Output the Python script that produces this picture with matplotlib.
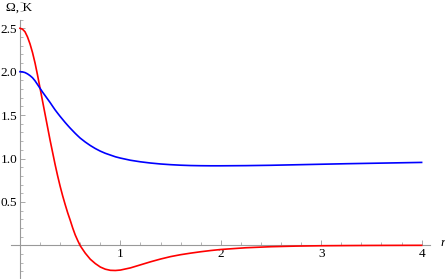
import matplotlib
matplotlib.use('Agg')
import matplotlib.pyplot as plt
from matplotlib.ticker import MultipleLocator, FixedLocator

# values
r_vals = [0.0, 0.025, 0.05, 0.075, 0.1, 0.125, 0.15, 0.175, 0.2, 0.225, 0.25,
          0.275, 0.3, 0.325, 0.35, 0.375, 0.4, 0.425, 0.45, 0.475, 0.5, 0.525,
          0.55, 0.575, 0.6, 0.65, 0.7, 0.75, 0.8, 0.85, 0.9, 0.95, 1.0, 1.1,
          1.2, 1.3, 1.4, 1.5, 1.6, 1.7, 1.8, 1.9, 2.0, 2.25, 2.5, 2.75, 3.0,
          3.25, 3.5, 3.75, 4.0]
omega = [2.5, 2.49, 2.46, 2.40, 2.32, 2.22, 2.10, 1.96, 1.81, 1.66, 1.51,
         1.36, 1.21, 1.07, 0.93, 0.80, 0.68, 0.57, 0.47, 0.375, 0.29, 0.20,
         0.12, 0.055, -0.005, -0.09, -0.16, -0.21, -0.25, -0.275, -0.288, -0.29,
         -0.285, -0.26, -0.225, -0.19, -0.158, -0.13, -0.108, -0.09, -0.074,
         -0.06, -0.048, -0.028, -0.016, -0.009, -0.005, -0.003, -0.0015,
         -0.0007, 0.0]
kappa = [2.0, 1.998, 1.99, 1.975, 1.955, 1.93, 1.895, 1.852, 1.808, 1.765,
         1.725, 1.685, 1.645, 1.602, 1.56, 1.522, 1.485, 1.45, 1.415, 1.382,
         1.35, 1.32, 1.29, 1.262, 1.235, 1.19, 1.15, 1.115, 1.085, 1.06, 1.04,
         1.02, 1.005, 0.98, 0.962, 0.948, 0.937, 0.929, 0.923, 0.919, 0.917,
         0.916, 0.916, 0.918, 0.922, 0.928, 0.934, 0.94, 0.945, 0.95, 0.955]

x_ticks = [1, 2, 3, 4]
y_ticks = [0.5, 1.0, 1.5, 2.0, 2.5]

plt.rcParams['font.family'] = ['Liberation Serif', 'DejaVu Serif']
axis_gray = '#999999'
fsize = 9.5

fig = plt.figure(figsize=(4.45, 2.79), dpi=100)
ax = fig.add_axes([0, 0, 1, 1])
ax.set_xlim(-0.199, 4.233)
ax.set_ylim(-0.388, 2.826)

ax.plot(r_vals, omega, color='red', lw=1.2, zorder=3, solid_joinstyle='round')
ax.plot(r_vals, kappa, color='blue', lw=1.2, zorder=3, solid_joinstyle='round')

for s in ['top', 'right']:
    ax.spines[s].set_visible(False)
ax.spines['left'].set_position(('data', 0))
ax.spines['bottom'].set_position(('data', 0))
ax.spines['left'].set_bounds(-0.388, 2.6)
ax.spines['bottom'].set_bounds(-0.09, 4.08)
for s in ['left', 'bottom']:
    ax.spines[s].set_color(axis_gray)
    ax.spines[s].set_linewidth(0.8)

ax.xaxis.set_major_locator(FixedLocator(x_ticks))
ax.xaxis.set_minor_locator(MultipleLocator(0.2))
ax.yaxis.set_major_locator(FixedLocator(y_ticks))
ax.yaxis.set_minor_locator(MultipleLocator(0.1))
ax.set_xticklabels([str(t) for t in x_ticks])
ax.set_yticklabels(['%.1f' % t for t in y_ticks])

ax.tick_params(which='major', direction='in', length=3.5, width=0.6,
               color=axis_gray, labelsize=fsize, pad=2)
ax.tick_params(which='minor', direction='in', length=2, width=0.5,
               color=axis_gray)

ax.text(0.12, 2.70, '\u03a9, K', ha='right', va='baseline', fontsize=fsize)
ax.text(4.21, 0.03, 'r', ha='center', va='center', fontsize=fsize,
        style='italic')

fig.savefig('out.png', dpi=100)
